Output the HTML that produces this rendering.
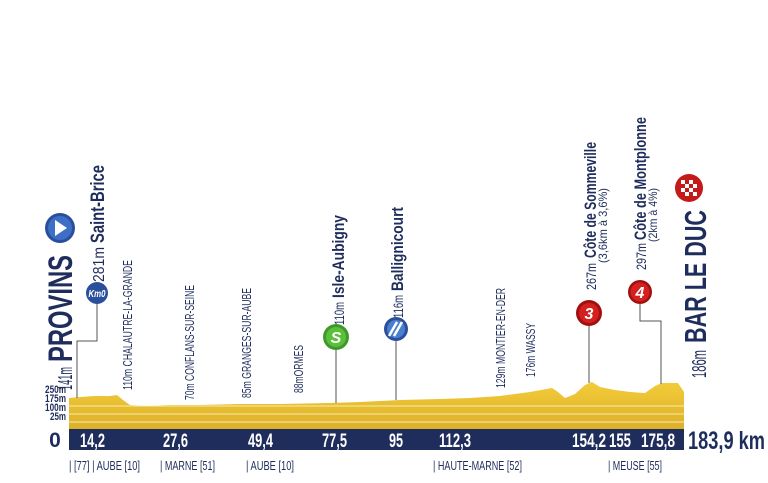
<!DOCTYPE html>
<html><head><meta charset="utf-8"><style>
html,body{margin:0;padding:0;background:#fff;}
svg{display:block;}
text{font-family:"Liberation Sans",sans-serif;}
</style></head><body>
<svg width="768" height="483" viewBox="0 0 768 483" xmlns="http://www.w3.org/2000/svg">
<defs>
<linearGradient id="y" x1="0" y1="0" x2="0" y2="1"><stop offset="0" stop-color="#f2cc3a"/><stop offset="1" stop-color="#ddb02a"/></linearGradient>
</defs>
<path d="M69,398 L80,397 L95,396 L110,396 L117,395 L123,400 L130,405 L145,406 L170,405 L200,405 L240,404 L280,404 L330,403 L360,402 L400,400 L440,399 L470,398 L500,396 L530,392 L552,388 L558,392 L565,398 L575,394 L585,385 L592,382 L600,387 L615,390 L630,392 L645,393 L655,386 L662,383 L678,383 L684,392 L684,429 L69,429 Z" fill="url(#y)"/>
<g stroke="#fff6c8" stroke-width="1" opacity="0.8">
<line x1="69" y1="406" x2="684" y2="406"/><line x1="69" y1="414" x2="684" y2="414"/><line x1="69" y1="422" x2="684" y2="422"/></g>
<rect x="69" y="429" width="615" height="21" fill="#1f2d5c"/>
<g font-size="11" fill="#1f2d5c" text-anchor="end" font-weight="bold">
<text x="66" y="393" textLength="21" lengthAdjust="spacingAndGlyphs">250m</text><text x="66" y="402" textLength="21" lengthAdjust="spacingAndGlyphs">175m</text><text x="66" y="411" textLength="21" lengthAdjust="spacingAndGlyphs">100m</text><text x="66" y="420" textLength="16" lengthAdjust="spacingAndGlyphs">25m</text></g>
<text x="55" y="447" font-size="21" font-weight="bold" fill="#1f2d5c" text-anchor="middle">0</text>
<g font-size="19" font-weight="bold" fill="#fff">
<text x="80" y="447" textLength="25" lengthAdjust="spacingAndGlyphs">14,2</text>
<text x="163" y="447" textLength="25" lengthAdjust="spacingAndGlyphs">27,6</text>
<text x="248" y="447" textLength="25" lengthAdjust="spacingAndGlyphs">49,4</text>
<text x="322" y="447" textLength="25" lengthAdjust="spacingAndGlyphs">77,5</text>
<text x="389" y="447" textLength="14" lengthAdjust="spacingAndGlyphs">95</text>
<text x="439" y="447" textLength="32" lengthAdjust="spacingAndGlyphs">112,3</text>
<text x="572" y="447" textLength="34" lengthAdjust="spacingAndGlyphs">154,2</text>
<text x="609" y="447" textLength="22" lengthAdjust="spacingAndGlyphs">155</text>
<text x="641" y="447" textLength="34" lengthAdjust="spacingAndGlyphs">175,8</text></g>
<text x="688" y="449" font-size="25" font-weight="bold" fill="#1f2d5c" textLength="77" lengthAdjust="spacingAndGlyphs">183,9 km</text>
<g font-size="13" fill="#1f2d5c">
<text x="69" y="470" textLength="71" lengthAdjust="spacingAndGlyphs">| [77] | AUBE [10]</text>
<text x="160" y="470" textLength="55" lengthAdjust="spacingAndGlyphs">| MARNE [51]</text>
<text x="246" y="470" textLength="48" lengthAdjust="spacingAndGlyphs">| AUBE [10]</text>
<text x="433" y="470" textLength="89" lengthAdjust="spacingAndGlyphs">| HAUTE-MARNE [52]</text>
<text x="608" y="470" textLength="54" lengthAdjust="spacingAndGlyphs">| MEUSE [55]</text></g>
<g stroke="#555" stroke-width="1" fill="none">
<polyline points="97,304 97,341 77,341 77,398"/>
<line x1="336" y1="349" x2="336" y2="403"/>
<line x1="396" y1="341" x2="396" y2="400"/>
<line x1="589" y1="326" x2="589" y2="383"/>
<polyline points="640,304 640,321 661,321 661,384"/>
</g>
<circle cx="60" cy="228" r="15" fill="#2a4f9c"/><circle cx="60" cy="228" r="12" fill="#3d6fc4"/><path d="M55,220 L67,228 L55,236 Z" fill="#fff"/>
<circle cx="97" cy="293" r="11" fill="#2a4f9c"/><text x="97" y="297" font-size="10" font-weight="bold" font-style="italic" fill="#fff" text-anchor="middle" textLength="17" lengthAdjust="spacingAndGlyphs">Km0</text>
<circle cx="336" cy="337" r="13" fill="#3d9a2a"/><circle cx="336" cy="337" r="10" fill="#5cbf3b"/><text x="336" y="343" font-size="16" font-weight="bold" font-style="italic" fill="#fff" text-anchor="middle">S</text>
<circle cx="396" cy="329" r="12" fill="#2a4f9c"/><circle cx="396" cy="329" r="9" fill="#4a7fd0"/><path d="M389,336 L397,322 M394,336 L402,322" stroke="#fff" stroke-width="2.5"/>
<circle cx="589" cy="313" r="13" fill="#a01010"/><circle cx="589" cy="313" r="10" fill="#d52020"/><text x="589" y="319" font-size="16" font-weight="bold" font-style="italic" fill="#fff" text-anchor="middle">3</text>
<circle cx="640" cy="292" r="12" fill="#a01010"/><circle cx="640" cy="292" r="9.5" fill="#d52020"/><text x="640" y="298" font-size="16" font-weight="bold" font-style="italic" fill="#fff" text-anchor="middle">4</text>
<circle cx="689" cy="188" r="14" fill="#c41a1a"/>
<g fill="#fff"><rect x="681" y="180" width="4" height="4"/><rect x="689" y="180" width="4" height="4"/><rect x="685" y="184" width="4" height="4"/><rect x="693" y="184" width="4" height="4"/><rect x="681" y="188" width="4" height="4"/><rect x="689" y="188" width="4" height="4"/><rect x="685" y="192" width="4" height="4"/><rect x="693" y="192" width="4" height="4"/></g>
<g fill="#1f2d5c">
<text transform="translate(72,390) rotate(-90)" font-size="20" textLength="23" lengthAdjust="spacingAndGlyphs">141m</text>
<text transform="translate(72,362) rotate(-90)" font-size="34" font-weight="bold" textLength="107" lengthAdjust="spacingAndGlyphs">PROVINS</text>
<text transform="translate(104,282) rotate(-90)" font-size="16" textLength="35" lengthAdjust="spacingAndGlyphs">281m</text>
<text transform="translate(104,243) rotate(-90)" font-size="19" font-weight="bold" textLength="78" lengthAdjust="spacingAndGlyphs">Saint-Brice</text>
<text transform="translate(344,325) rotate(-90)" font-size="14" textLength="23" lengthAdjust="spacingAndGlyphs">110m</text>
<text transform="translate(344,298) rotate(-90)" font-size="17" font-weight="bold" textLength="83" lengthAdjust="spacingAndGlyphs">Isle-Aubigny</text>
<text transform="translate(403,318) rotate(-90)" font-size="14" textLength="23" lengthAdjust="spacingAndGlyphs">116m</text>
<text transform="translate(403,291) rotate(-90)" font-size="17" font-weight="bold" textLength="84" lengthAdjust="spacingAndGlyphs">Ballignicourt</text>
<text transform="translate(596,290) rotate(-90)" font-size="14" textLength="27" lengthAdjust="spacingAndGlyphs">267m</text>
<text transform="translate(596,258) rotate(-90)" font-size="17" font-weight="bold" textLength="116" lengthAdjust="spacingAndGlyphs">Côte de Sommeville</text>
<text transform="translate(607,263) rotate(-90)" font-size="12" textLength="75" lengthAdjust="spacingAndGlyphs">(3,6km à 3,6%)</text>
<text transform="translate(646,270) rotate(-90)" font-size="14" textLength="27" lengthAdjust="spacingAndGlyphs">297m</text>
<text transform="translate(646,240) rotate(-90)" font-size="17" font-weight="bold" textLength="123" lengthAdjust="spacingAndGlyphs">Côte de Montplonne</text>
<text transform="translate(657,242) rotate(-90)" font-size="12" textLength="54" lengthAdjust="spacingAndGlyphs">(2km à 4%)</text>
<text transform="translate(706,378) rotate(-90)" font-size="20" textLength="28" lengthAdjust="spacingAndGlyphs">186m</text>
<text transform="translate(706,343) rotate(-90)" font-size="31" font-weight="bold" textLength="133" lengthAdjust="spacingAndGlyphs">BAR LE DUC</text>
<g font-size="13">
<text transform="translate(132,390) rotate(-90)" textLength="130" lengthAdjust="spacingAndGlyphs">110m CHALAUTRE-LA-GRANDE</text>
<text transform="translate(194,400) rotate(-90)" textLength="115" lengthAdjust="spacingAndGlyphs">70m CONFLANS-SUR-SEINE</text>
<text transform="translate(251,398) rotate(-90)" textLength="110" lengthAdjust="spacingAndGlyphs">85m GRANGES-SUR-AUBE</text>
<text transform="translate(303,393) rotate(-90)" textLength="48" lengthAdjust="spacingAndGlyphs">88mORMES</text>
<text transform="translate(505,388) rotate(-90)" textLength="100" lengthAdjust="spacingAndGlyphs">129m MONTIER-EN-DER</text>
<text transform="translate(535,377) rotate(-90)" textLength="54" lengthAdjust="spacingAndGlyphs">176m WASSY</text>
</g></g>
</svg>
</body></html>
